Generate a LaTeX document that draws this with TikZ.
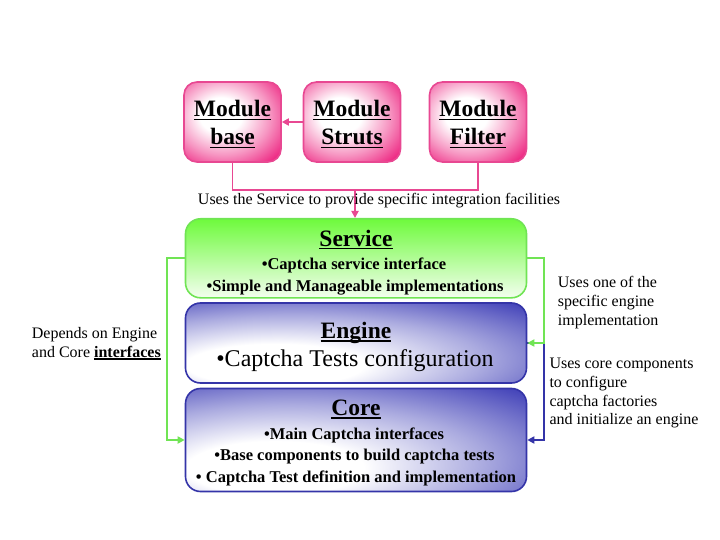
\documentclass[tikz,border=0pt]{standalone}
\usepackage{fontspec}
\setmainfont{Liberation Serif}
\usetikzlibrary{arrows.meta}
\definecolor{pinkline}{RGB}{232,72,146}
\definecolor{pinkfill}{RGB}{236,22,120}
\definecolor{greenline}{RGB}{112,228,84}
\definecolor{greenfill}{RGB}{110,250,60}
\definecolor{blueline}{RGB}{52,52,168}
\definecolor{bluefill}{RGB}{44,44,176}
\pgfdeclareradialshading{pinkshade}{\pgfpoint{-7bp}{5bp}}{color(0bp)=(white); color(11bp)=(white); color(24bp)=(pinkfill!45); color(38bp)=(pinkfill); color(75bp)=(pinkfill)}
\pgfdeclareradialshading{blueshade}{\pgfpoint{-14bp}{-16bp}}{color(0bp)=(white); color(13bp)=(white); color(28bp)=(bluefill!40); color(48bp)=(bluefill); color(85bp)=(bluefill)}
\newcommand\myul[2][3.5pt]{\setbox0\hbox{#2}\rlap{\rule[-#1]{\wd0}{1.3pt}}\box0}
\begin{document}
\begin{tikzpicture}[x=1pt,y=-1pt,
  modbox/.style={draw=pinkline, line width=1.6pt, rounded corners=13pt, shade, shading=pinkshade, minimum width=97pt, minimum height=80pt, inner sep=0pt},
  layerbox/.style={line width=1.6pt, rounded corners=15pt, minimum width=341pt, inner sep=0pt},
  titletxt/.style={anchor=base, inner sep=0pt, font=\bfseries\fontsize{23.5}{28}\selectfont},
  itemtxt/.style={anchor=base, inner sep=0pt, font=\bfseries\fontsize{16.5}{20}\selectfont},
  note/.style={anchor=north west, inner sep=0pt, align=left},
  pinkconn/.style={draw=pinkline, line width=1.8pt},
  pinkarrow/.style={pinkconn, -{Triangle[length=7pt,width=7pt]}},
  greenarrow/.style={draw=greenline, line width=1.8pt, -{Triangle[length=7pt,width=7pt]}},
  bluearrow/.style={draw=blueline, line width=1.8pt, -{Triangle[length=7pt,width=7pt]}}
]
\useasboundingbox (0,0) rectangle (720,540);

% module boxes
\node[modbox] (base) at (232.5,122) {};
\node[modbox] (struts) at (352,122) {};
\node[modbox] (filter) at (478,122) {};
\node[titletxt] (baset1) at (232.5,117) {\myul{Module}};
\node[titletxt] (baset2) at (232.5,144.5) {\myul{base}};
\node[titletxt] (strutst1) at (352,117) {\myul{Module}};
\node[titletxt] (strutst2) at (352,144.5) {\myul{Struts}};
\node[titletxt] (filtert1) at (478,117) {\myul{Module}};
\node[titletxt] (filtert2) at (478,144.5) {\myul{Filter}};

% layer boxes
\node[layerbox, draw=greenline, top color=greenfill, bottom color=greenfill!8!white, minimum height=79pt] (service) at (356,258.3) {};
\node[layerbox, draw=blueline, shade, shading=blueshade, minimum height=80pt] (engine) at (356,343) {};
\node[layerbox, draw=blueline, shade, shading=blueshade, minimum height=103pt] (core) at (356,440) {};

\node[titletxt] (servicet) at (356,246) {\myul{Service}};
\node[itemtxt] (servicei1) at (354,269) {•Captcha service interface};
\node[itemtxt] (servicei2) at (355,291) {•Simple and Manageable implementations};

\node[titletxt] (enginet) at (356,338) {\myul{Engine}};
\node[anchor=base, inner sep=0pt, font=\fontsize{24}{28}\selectfont] (enginei1) at (355,366) {•Captcha Tests configuration};

\node[titletxt] (coret) at (356,415) {\myul{Core}};
\node[itemtxt] (corei1) at (354,439) {•Main Captcha interfaces};
\node[itemtxt] (corei2) at (354.5,460.5) {•Base components to build captcha tests};
\node[itemtxt] (corei3) at (356,482) {• Captcha Test definition and implementation};

% connectors
\coordinate (join) at (355,190);
\coordinate (leftx) at (167.3,0);
\coordinate (rightx) at (544,0);
\draw[pinkarrow] (struts.west) -- (base.east);
\draw[pinkconn] (base.south) -- (base.south |- join) -- (filter.south |- join) -- (filter.south);
\draw[pinkarrow] (join) -- (join |- service.north);
\draw[greenarrow] (service.west) -- (service.west -| leftx) |- (core.west);
\draw[bluearrow] (engine.east) -- (engine.east -| rightx) |- (core.east);
\draw[greenarrow] (service.east) -- (service.east -| rightx) |- (engine.east);

% annotations
\node[anchor=base, inner sep=0pt, font=\fontsize{16}{19}\selectfont] (servicenote) at (379,205) {Uses the Service to provide specific integration facilities};
\node[note, font=\fontsize{16}{18.5}\selectfont] (leftnote) at (31.7,327.4) {Depends on Engine\\and Core \textbf{\myul[2.5pt]{interfaces}}};
\node[note, font=\fontsize{16}{19}\selectfont] (enginenote) at (557.7,275.8) {Uses one of the\\specific engine\\implementation};
\node[note, font=\fontsize{16}{18.7}\selectfont] (corenote) at (549.3,358.1) {Uses core components\\to configure\\captcha factories\\and initialize an engine};
\end{tikzpicture}
\end{document}
